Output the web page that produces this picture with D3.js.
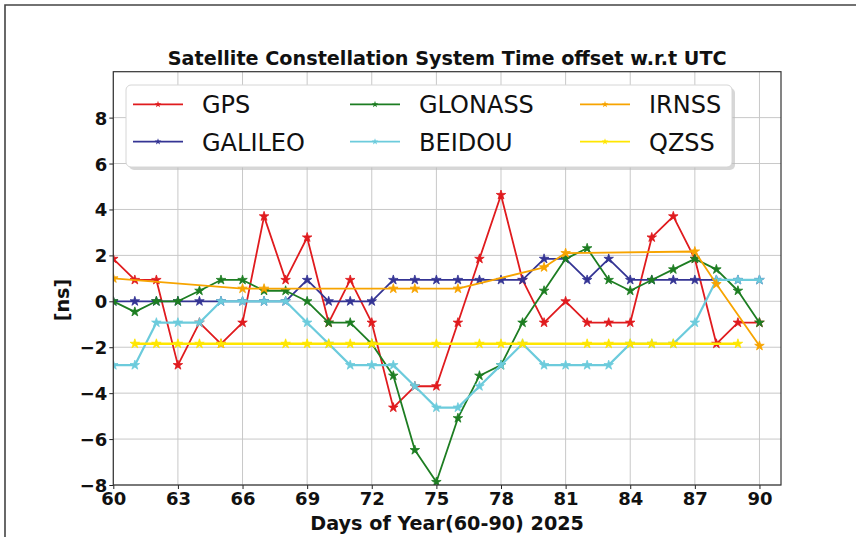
<!DOCTYPE html>
<html>
<head>
<meta charset="utf-8">
<script src="https://cdn.jsdelivr.net/npm/d3@7"></script>
<style>
html,body{margin:0;padding:0;background:#fff;}
svg{display:block;font-family:"DejaVu Sans",sans-serif;}
</style>
</head>
<body>
<svg id="chart" width="856" height="537"></svg>
<script>
// ---- data ----
const days = [60,61,62,63,64,65,66,67,68,69,70,71,72,73,74,75,76,77,78,79,80,81,82,83,84,85,86,87,88,89,90];
const gps = [1.85,0.93,0.93,-2.78,-0.93,-1.85,-0.93,3.7,0.93,2.78,-0.93,0.93,-0.93,-4.63,-3.7,-3.7,-0.93,1.85,4.63,0.93,-0.93,0,-0.93,-0.93,-0.93,2.78,3.7,1.85,-1.85,-0.93,-0.93];
const galileo = [0,0,0,0,0,0,0,0,0,0.93,0,0,0,0.93,0.93,0.93,0.93,0.93,0.93,0.93,1.85,1.85,0.93,1.85,0.93,0.93,0.93,0.93,0.93,0.93,0.93];
const glonass = [0,-0.46,0,0,0.46,0.93,0.93,0.46,0.46,0,-0.93,-0.93,-1.85,-3.24,-6.48,-7.87,-5.09,-3.24,-2.78,-0.93,0.46,1.85,2.31,0.93,0.46,0.93,1.39,1.85,1.39,0.46,-0.93];
const beidou = [-2.78,-2.78,-0.93,-0.93,-0.93,0,0,0,0,-0.93,-1.85,-2.78,-2.78,-2.78,-3.7,-4.63,-4.63,-3.7,-2.78,-1.85,-2.78,-2.78,-2.78,-2.78,-1.85,-1.85,-1.85,-0.93,0.93,0.93,0.93];
const irnssDays = [60,66,67,73,74,76,80,81,87,88,90];
const irnss = [1.0,0.55,0.55,0.55,0.55,0.55,1.48,2.1,2.17,0.75,-1.94];
const qzssDays = [61,62,63,64,65,68,69,70,71,72,75,77,78,79,82,83,84,85,86,89];
const qzss = [-1.85,-1.85,-1.85,-1.85,-1.85,-1.85,-1.85,-1.85,-1.85,-1.85,-1.85,-1.85,-1.85,-1.85,-1.85,-1.85,-1.85,-1.85,-1.85,-1.85];
const xTicks = [60,63,66,69,72,75,78,81,84,87,90];
const yTicks = [-8,-6,-4,-2,0,2,4,6,8];
const seriesNames = ["GPS","GALILEO","GLONASS","BEIDOU","IRNSS","QZSS"];
const titleText = "Satellite Constellation System Time offset w.r.t UTC";
const xLabel = "Days of Year(60-90) 2025";
const yLabel = "[ns]";

// ---- styles ----
const colors = {GPS:"#e01b1e",GALILEO:"#343494",GLONASS:"#1d7d22",BEIDOU:"#6ccbdc",IRNSS:"#f7a400",QZSS:"#ffe600"};
const widths = {GPS:1.8,GALILEO:1.8,GLONASS:1.8,BEIDOU:2.2,IRNSS:1.8,QZSS:2.6};

const series = [
  {name:"GPS", x:days, y:gps},
  {name:"GALILEO", x:days, y:galileo},
  {name:"GLONASS", x:days, y:glonass},
  {name:"BEIDOU", x:days, y:beidou},
  {name:"IRNSS", x:irnssDays, y:irnss},
  {name:"QZSS", x:qzssDays, y:qzss}
];

const svg = d3.select("#chart");
const L = 113.3, R = 781, T = 71.7, B = 485;
const x = d3.scaleLinear().domain([60,91]).range([L,R]);
const y = d3.scaleLinear().domain([-8,10]).range([B,T]);

// outer frame
svg.append("path").attr("d","M5,540V5H860").attr("fill","none").attr("stroke","#444").attr("stroke-width",1.6);

// grid
const g = svg.append("g");
g.selectAll(".gx").data(xTicks).enter().append("line")
  .attr("x1",d=>x(d)).attr("x2",d=>x(d)).attr("y1",T).attr("y2",B)
  .attr("stroke","#c8c8c8").attr("stroke-width",1);
g.selectAll(".gy").data(yTicks).enter().append("line")
  .attr("x1",L).attr("x2",R).attr("y1",d=>y(d)).attr("y2",d=>y(d))
  .attr("stroke","#c8c8c8").attr("stroke-width",1);

// star path
function starPath(r){
  const ri = r*0.381966;
  let p = "";
  for(let i=0;i<10;i++){
    const a = -Math.PI/2 + i*Math.PI/5;
    const rr = i%2===0 ? r : ri;
    p += (i===0?"M":"L") + (rr*Math.cos(a)).toFixed(2) + "," + (rr*Math.sin(a)).toFixed(2);
  }
  return p+"Z";
}

svg.append("clipPath").attr("id","clip").append("rect")
  .attr("x",L).attr("y",T).attr("width",R-L).attr("height",B-T);
const plot = svg.append("g").attr("clip-path","url(#clip)");

series.forEach(s=>{
  const pts = s.x.map((d,i)=>[d,s.y[i]]);
  const line = d3.line().x(d=>x(d[0])).y(d=>y(d[1]));
  plot.append("path").attr("d",line(pts)).attr("fill","none")
    .attr("stroke",colors[s.name]).attr("stroke-width",widths[s.name]).attr("stroke-linejoin","round");
  plot.selectAll(null).data(pts).enter().append("path")
    .attr("d",starPath(5)).attr("transform",d=>`translate(${x(d[0])},${y(d[1])})`)
    .attr("fill",colors[s.name]).attr("stroke",colors[s.name]).attr("stroke-width",0.8);
});

// axes
const xAxis = d3.axisBottom(x).tickValues(xTicks).tickSize(4).tickPadding(2).tickFormat(d3.format("d"));
const yAxis = d3.axisLeft(y).tickValues(yTicks).tickSize(4).tickPadding(2).tickFormat(d=>d<0?"\u2212"+Math.abs(d):String(d));
const gx = svg.append("g").attr("transform",`translate(0,${B})`).call(xAxis);
const gy = svg.append("g").attr("transform",`translate(${L},0)`).call(yAxis);
[gx,gy].forEach(a=>{
  a.select(".domain").remove();
  a.selectAll("line").attr("stroke","#222");
  a.selectAll("text").attr("fill","#111").style("font-family","DejaVu Sans").style("font-weight","bold").style("font-size","18px");
});
gx.selectAll("text").attr("dy","0.78em");
gy.selectAll("text").attr("dy","0.36em");

// spines
svg.append("rect").attr("x",L).attr("y",T).attr("width",R-L).attr("height",B-T)
  .attr("fill","none").attr("stroke","#333").attr("stroke-width",1.2);

// title & labels
svg.append("text").attr("x",(L+R)/2).attr("y",65).attr("text-anchor","middle")
  .style("font-weight","bold").style("font-size","19.2px").attr("fill","#111").text(titleText);
svg.append("text").attr("x",(L+R)/2).attr("y",530).attr("text-anchor","middle")
  .style("font-weight","bold").style("font-size","19.2px").attr("fill","#111").text(xLabel);
svg.append("text").attr("transform","translate(69,300) rotate(-90)").attr("text-anchor","middle")
  .style("font-weight","bold").style("font-size","19.2px").attr("fill","#111").text(yLabel);

// legend
const lg = svg.append("g");
lg.append("rect").attr("x",129).attr("y",88).attr("width",606).attr("height",82).attr("rx",5)
  .attr("fill","#bdbdbd").attr("opacity",0.6);
lg.append("rect").attr("x",126).attr("y",85).attr("width",606).attr("height",82).attr("rx",5)
  .attr("fill","#fff").attr("stroke","#d6d6d6").attr("stroke-width",1);
const colX = [133,350,580];
const rowY = [104.3,141.7];
series.forEach((s,i)=>{
  const c = Math.floor(i/2), r = i%2;
  const hx = colX[c], hy = rowY[r];
  lg.append("line").attr("x1",hx).attr("x2",hx+50).attr("y1",hy).attr("y2",hy)
    .attr("stroke",colors[s.name]).attr("stroke-width",1.8);
  lg.append("path").attr("d",starPath(3.5)).attr("transform",`translate(${hx+25},${hy})`)
    .attr("fill",colors[s.name]);
  lg.append("text").attr("x",hx+69).attr("y",hy+9).style("font-size","24px").attr("fill","#111").text(s.name);
});
</script>
</body>
</html>
